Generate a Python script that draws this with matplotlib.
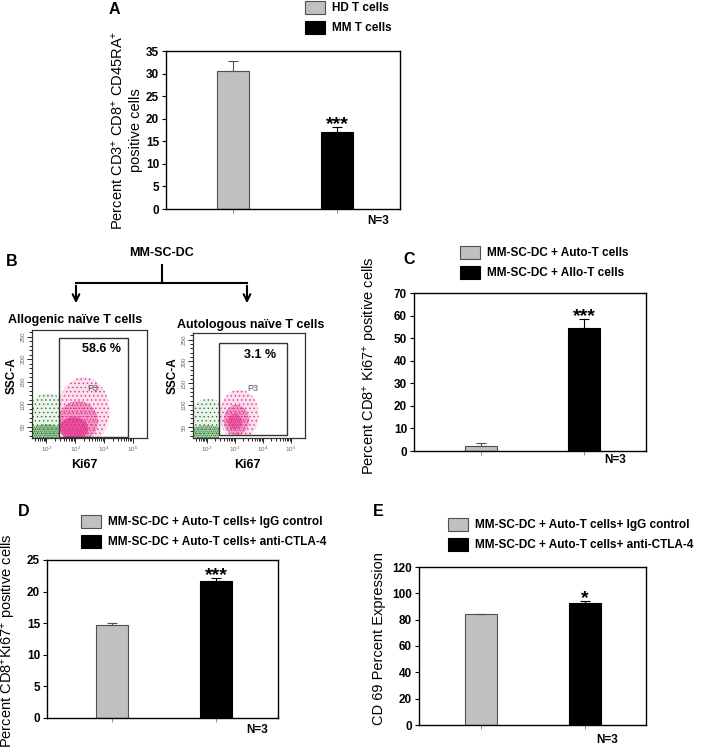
import numpy as np
import matplotlib.pyplot as plt
from matplotlib.patches import Patch, Ellipse, Rectangle, FancyArrowPatch
from matplotlib.lines import Line2D

plt.rcParams['font.family'] = ['Liberation Sans', 'DejaVu Sans']
plt.rcParams['mathtext.fontset'] = 'custom'
plt.rcParams['mathtext.rm'] = 'Liberation Sans'
plt.rcParams['mathtext.bf'] = 'Liberation Sans:bold'
plt.rcParams['mathtext.default'] = 'regular'
plt.rcParams['hatch.linewidth'] = 0.5

# ---------------- data ----------------
# A : naive T cells
a_labels = ['HD T cells', 'MM T cells']
a_means = [30.5, 17.0]
a_errs = [2.2, 1.1]
a_sig = ['', '***']

# C : proliferation, auto vs allo
c_labels = ['MM-SC-DC + Auto-T cells', 'MM-SC-DC + Allo-T cells']
c_means = [2.2, 54.7]
c_errs = [1.3, 3.8]
c_sig = ['', '***']

# D : Ki67 with CTLA-4 blockade
d_labels = ['MM-SC-DC + Auto-T cells+ IgG control',
            'MM-SC-DC + Auto-T cells+ anti-CTLA-4']
d_means = [14.7, 21.6]
d_errs = [0.3, 0.5]
d_sig = ['', '***']

# E : CD69
e_labels = d_labels
e_means = [84.0, 93.0]
e_errs = [0.5, 1.2]
e_sig = ['', '*']

# B : flow plots (x = log10 Ki67, y = SSC-A)
flow_titles = ['Allogenic naïve T cells', 'Autologous naïve T cells']
flow_pcts = ['58.6 %', '3.1 %']
flow_gates = [[2.44, 4.84, 27, 247], [2.43, 4.86, 32, 243]]
# populations drawn as density blobs: (x centre, y centre, width, height, hatch, alpha)
flow_green = [
    [(2.05, 70, 1.4, 110, '....', 0.15), (2.0, 38, 1.3, 34, '........', 0.7)],
    [(2.05, 65, 1.4, 100, '....', 0.15), (2.0, 38, 1.3, 32, '........', 0.6)],
]
flow_pink = [
    [(3.3, 85, 1.8, 150, '....', 0.25), (3.1, 62, 1.4, 90, '......', 0.6),
     (2.95, 46, 1.0, 50, '........', 1.0)],
    [(3.15, 78, 1.4, 115, '....', 0.25), (3.05, 66, 0.9, 70, '......', 0.6),
     (3.0, 62, 0.5, 36, '........', 0.8)],
]
flow_p3 = [(3.62, 136), (3.64, 138)]

W, H = 710, 750


def fx(px):
    return px / W


def fy(py):
    return 1 - py / H


fig = plt.figure(figsize=(7.1, 7.5), dpi=100)

gray = '#c0c0c0'
gray_edge = '#505050'


def bar_panel(rect, means, errs, sig, labels, ymax, ystep, ylabel,
              ylab_xy, n_xy, leg_xy, xlim):
    ax = fig.add_axes(rect)
    x = np.arange(len(means))
    ax.bar(x, means, width=0.31, color=[gray, 'black'],
           edgecolor=[gray_edge, 'black'], linewidth=0.8, zorder=2)
    for xi, m, e, c, s in zip(x, means, errs, [gray_edge, 'black'], sig):
        ax.errorbar(xi, m, yerr=[[0], [e]], color=c, capsize=3.5,
                    lw=0.8, capthick=0.8, zorder=3)
        if s:
            ax.annotate(s, (xi, m + e), xytext=(0, -1.5), textcoords='offset points',
                        ha='center', va='baseline', fontsize=14, fontweight='bold')
    ax.set_xlim(*xlim)
    ax.set_ylim(0, ymax)
    ax.set_yticks(np.arange(0, ymax + 0.1, ystep))
    ax.set_xticks(x)
    ax.set_xticklabels([])
    ax.tick_params(axis='y', direction='out', length=3, width=0.8, labelsize=8.5, pad=2)
    ax.tick_params(axis='x', direction='out', length=3, width=0.6, color='#777777')
    for t in ax.get_yticklabels():
        t.set_fontweight('bold')
    for sp in ax.spines.values():
        sp.set_linewidth(1.0)
    ax.set_ylabel(ylabel, fontsize=10.5, linespacing=1.35)
    ax.yaxis.set_label_coords(*ylab_xy)
    ax.text(n_xy[0], n_xy[1], 'N=3', transform=ax.transAxes, ha='center',
            va='center', fontsize=8.5, fontweight='bold')
    handles = [Patch(facecolor=gray, edgecolor=gray_edge, lw=0.8),
               Patch(facecolor='black', edgecolor='black', lw=0.8)]
    fig.legend(handles, labels, loc='upper left',
               bbox_to_anchor=(fx(leg_xy[0]), fy(leg_xy[1])),
               frameon=False, borderpad=0, borderaxespad=0,
               handlelength=1.7, handleheight=1.3, handletextpad=0.6,
               labelspacing=0.55, prop={'size': 8.5, 'weight': 'bold'})
    return ax


# A
bar_panel([fx(166), fy(209), (400 - 166) / W, (209 - 51) / H],
          a_means, a_errs, a_sig, a_labels, 35, 5,
          'Percent CD3$^{+}$ CD8$^{+}$ CD45RA$^{+}$\npositive cells',
          (-0.098, 0.5), (0.906, -0.076), (305, 1), (-0.644, 1.606))
# C
bar_panel([fx(414), fy(451), (646 - 414) / W, (451 - 293) / H],
          c_means, c_errs, c_sig, c_labels, 70, 10,
          'Percent CD8$^{+}$ Ki67$^{+}$ positive cells',
          (-0.147, 0.54), (0.866, -0.057), (460, 246), (-0.65, 1.6))
# D
bar_panel([fx(47), fy(718), (278 - 47) / W, (718 - 560) / H],
          d_means, d_errs, d_sig, d_labels, 25, 5,
          'Percent CD8$^{+}$Ki67$^{+}$ positive cells',
          (-0.126, 0.49), (0.909, -0.076), (81, 515), (-0.625, 1.596))
# E
bar_panel([fx(419), fy(725), (646 - 419) / W, (725 - 567) / H],
          e_means, e_errs, e_sig, e_labels, 120, 20,
          'CD 69 Percent Expression',
          (-0.145, 0.544), (0.828, -0.095), (448, 518), (-0.6, 1.587))

# B flow plots
green = '#2a7d2a'
pink = '#e2318a'
flow_rects = [[fx(32), fy(438), 115 / W, 108 / H],
              [fx(193), fy(438), 112 / W, 105 / H]]
for i in range(2):
    ax = fig.add_axes(flow_rects[i])
    ax.set_xlim(1.5, 5.5)
    ax.set_ylim(25, 265)
    gx0, gx1, gy0, gy1 = flow_gates[i]
    gclip = Rectangle((1.5, 25), gx0 - 1.5, 240, transform=ax.transData)
    pclip = Rectangle((gx0, gy0), gx1 - gx0, gy1 - gy0, transform=ax.transData)
    for (cx, cy, w, h, hatch, al) in flow_green[i]:
        e = Ellipse((cx, cy), w, h, facecolor=(0.16, 0.49, 0.16, al * 0.55),
                    edgecolor=green, hatch=hatch, lw=0)
        ax.add_patch(e)
        e.set_clip_path(gclip)
    for (cx, cy, w, h, hatch, al) in flow_pink[i]:
        e = Ellipse((cx, cy), w, h, facecolor=(0.89, 0.19, 0.54, al * 0.6),
                    edgecolor=pink, hatch=hatch, lw=0)
        ax.add_patch(e)
        e.set_clip_path(pclip)
    ax.add_patch(Rectangle((gx0, gy0), gx1 - gx0, gy1 - gy0, fill=False,
                           edgecolor='#333333', lw=1.0))
    ax.text(flow_p3[i][0], flow_p3[i][1], 'P3', fontsize=6.5, color='#555555',
            ha='center', va='center')
    ax.text(0.6, 0.82 if i == 0 else 0.79, flow_pcts[i], transform=ax.transAxes,
            ha='center', va='center', fontsize=9, fontweight='bold')
    ax.set_xticks([2, 3, 4, 5])
    ax.set_xticklabels(['$10^{2}$', '$10^{3}$', '$10^{4}$', '$10^{5}$'])
    minors = [np.log10(k * 10.0 ** n) for n in range(1, 5) for k in range(2, 10)]
    ax.set_xticks([m for m in minors if 1.5 < m < 5.5], minor=True)
    ax.set_yticks([50, 100, 150, 200, 250])
    ax.set_yticks(np.arange(30, 265, 10), minor=True)
    ax.tick_params(which='both', direction='out', width=0.6, labelsize=4.5,
                   labelcolor='#666666', pad=1)
    ax.tick_params(which='major', length=3.5)
    ax.tick_params(which='minor', length=2)
    for t in ax.get_yticklabels():
        t.set_rotation(90)
        t.set_va('center')
    for sp in ax.spines.values():
        sp.set_linewidth(0.9)
        sp.set_color('#333333')

fig.text(fx(8), fy(320), flow_titles[0], ha='left', va='center',
         fontsize=9, fontweight='bold')
fig.text(fx(177), fy(325), flow_titles[1], ha='left', va='center',
         fontsize=9, fontweight='bold')
for sx in [12, 173]:
    fig.text(fx(sx), fy(376), 'SSC-A', rotation=90, ha='center', va='center',
             fontsize=8.5, fontweight='bold')
for kx in [84, 247]:
    fig.text(fx(kx), fy(465), 'Ki67', ha='center', va='center',
             fontsize=9, fontweight='bold')

# B diagram
fig.text(fx(162), fy(253), 'MM-SC-DC', ha='center', va='center',
         fontsize=9, fontweight='bold')
fig.add_artist(Line2D([fx(162), fx(162)], [fy(265), fy(283)],
                      transform=fig.transFigure, color='black', lw=1.5))
fig.add_artist(Line2D([fx(76), fx(247)], [fy(283), fy(283)],
                      transform=fig.transFigure, color='black', lw=1.5))
for ax_x in [76, 247]:
    fig.add_artist(FancyArrowPatch((fx(ax_x), fy(283)), (fx(ax_x), fy(306)),
                                   transform=fig.transFigure, arrowstyle='->',
                                   mutation_scale=12, lw=1.5, color='black'))

# panel letters
for lab, (lx, ly) in zip('ABCDE', [(114, 10), (12, 262), (409, 260),
                                   (24, 512), (378, 512)]):
    fig.text(fx(lx), fy(ly), lab, ha='center', va='center',
             fontsize=11.5, fontweight='bold')

fig.savefig('out.png', dpi=100)
